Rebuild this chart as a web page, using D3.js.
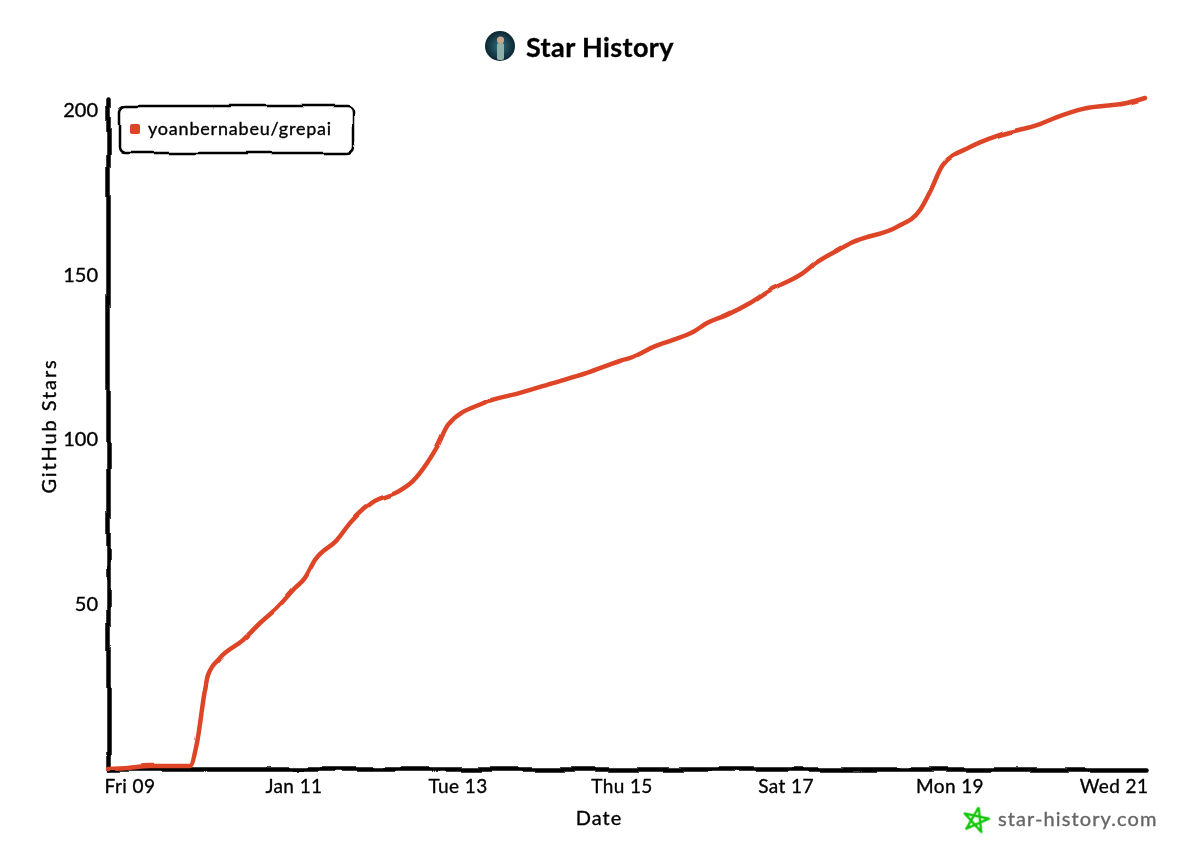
<!DOCTYPE html>
<html>
<head>
<meta charset="utf-8">
<script src="https://cdn.jsdelivr.net/npm/d3@7"></script>
<style>
  html, body { margin: 0; background: #fff; }
  text { font-family: "Lato", "Noto Sans", sans-serif; fill: #000; stroke: #000; stroke-width: 0.35px; }
</style>
</head>
<body>
<svg id="chart" width="1200" height="867"></svg>
<script>
// Data
var starTimes = [
  "01-08 17:34", "01-08 23:25", "01-09 05:51", "01-09 17:34", "01-09 19:36", "01-09 21:57",
  "01-09 22:50", "01-10 02:20", "01-10 09:04", "01-10 14:03", "01-10 19:01", "01-11 00:17",
  "01-11 03:13", "01-11 06:08", "01-11 12:35", "01-11 16:23", "01-11 23:07", "01-12 06:09",
  "01-12 10:32", "01-12 14:55", "01-12 17:51", "01-12 21:04", "01-13 07:19", "01-13 18:08",
  "01-14 03:48", "01-14 13:45", "01-14 23:25", "01-15 03:13", "01-15 09:04", "01-15 14:56",
  "01-15 20:47", "01-16 00:53", "01-16 06:44", "01-16 13:28", "01-16 19:19", "01-17 04:06",
  "01-17 09:04", "01-17 15:48", "01-17 19:37", "01-18 08:29", "01-18 15:13", "01-18 18:08",
  "01-18 21:55", "01-19 05:51", "01-19 14:38", "01-20 02:20", "01-20 07:19", "01-20 14:55",
  "01-21 03:48", "01-21 09:04"
];
var starCounts = [
  0, 0.3, 0.9, 0.9, 7.9, 24,
  28.5, 33.7, 39.1, 44.3, 48.9, 54.9,
  58, 63.4, 69.5, 74.6, 81, 84,
  87.1, 92.8, 97.7, 104.4, 111, 114.1,
  117.1, 120.2, 123.8, 125, 128, 130.2,
  132.6, 135.3, 137.8, 141.4, 145.3, 149.9,
  153.8, 157.8, 159.9, 164.5, 169.6, 175.1,
  183.3, 188.7, 192.4, 195.7, 197.8, 200.3,
  202.1, 203.6
];
var xTickTimes = ["01-09 00:00", "01-11 00:00", "01-13 00:00", "01-15 00:00", "01-17 00:00", "01-19 00:00", "01-21 00:00"];
var xTickLabels = ["Fri 09", "Jan 11", "Tue 13", "Thu 15", "Sat 17", "Mon 19", "Wed 21"];
var yTicks = [50, 100, 150, 200];
var seriesName = "yoanbernabeu/grepai";

var parseTime = d3.utcParse("%Y-%m-%d %H:%M");
function toDate(s) { return parseTime("2026-" + s); }

var red = "#dd4528";

var x = d3.scaleUtc()
  .domain([toDate(starTimes[0]), toDate(starTimes[starTimes.length - 1])])
  .range([108, 1145]);

var y = d3.scaleLinear()
  .domain([0, 203.6])
  .range([769, 98]);

var svg = d3.select("#chart");

// Same trick chart.xkcd uses: displace everything a bit to look hand drawn
var defs = svg.append("defs");
function sketchFilter(id, freq, scale) {
  var f = defs.append("filter")
    .attr("id", id)
    .attr("filterUnits", "userSpaceOnUse")
    .attr("x", 0).attr("y", 0).attr("width", 1200).attr("height", 867);
  f.append("feTurbulence")
    .attr("type", "fractalNoise")
    .attr("baseFrequency", freq)
    .attr("numOctaves", 1)
    .attr("seed", 4)
    .attr("result", "noise");
  f.append("feDisplacementMap")
    .attr("in", "SourceGraphic")
    .attr("in2", "noise")
    .attr("scale", scale)
    .attr("xChannelSelector", "R")
    .attr("yChannelSelector", "G");
}
sketchFilter("xkcdify", 0.025, 6);
sketchFilter("xkcdline", 0.04, 2.5);
sketchFilter("xkcdtext", 0.07, 1.6);

var lines = svg.append("g").attr("filter", "url(#xkcdify)");
var labels = svg.append("g").attr("filter", "url(#xkcdtext)");

// Axes
var xAxis = d3.axisBottom(x)
  .tickValues(xTickTimes.map(toDate))
  .tickFormat(function (d, i) { return xTickLabels[i]; })
  .tickSize(0)
  .tickPadding(0);

var yAxis = d3.axisLeft(y)
  .tickValues(yTicks)
  .tickSize(0);

var gx = lines.append("g").attr("transform", "translate(0,769)").call(xAxis);
var gy = lines.append("g").attr("transform", "translate(108,0)").call(yAxis);

[gx, gy].forEach(function (g) {
  g.select(".domain")
    .attr("stroke", "#000")
    .attr("stroke-width", 4.5)
    .attr("stroke-linecap", "round");
});

// Move the tick labels to the text layer so they get the finer wobble
gx.selectAll(".tick text").remove();
gy.selectAll(".tick text").remove();

labels.selectAll(".xlabel")
  .data(xTickTimes)
  .enter().append("text")
  .attr("class", "xlabel")
  .attr("x", function (d) { return x(toDate(d)); })
  .attr("y", 793)
  .attr("text-anchor", "middle")
  .attr("font-size", 19)
  .attr("letter-spacing", 0.4)
  .text(function (d, i) { return xTickLabels[i]; });

labels.selectAll(".ylabel")
  .data(yTicks)
  .enter().append("text")
  .attr("class", "ylabel")
  .attr("x", 98)
  .attr("y", function (d) { return y(d) + 7; })
  .attr("text-anchor", "end")
  .attr("font-size", 20)
  .text(function (d) { return d; });

// Series line
var line = d3.line()
  .x(function (d, i) { return x(toDate(starTimes[i])); })
  .y(function (d) { return y(d); })
  .curve(d3.curveMonotoneX);

svg.append("path")
  .datum(starCounts)
  .attr("filter", "url(#xkcdline)")
  .attr("fill", "none")
  .attr("stroke", red)
  .attr("stroke-width", 4.5)
  .attr("stroke-linecap", "round")
  .attr("stroke-linejoin", "round")
  .attr("d", line);

// Title with avatar
var avatarGrad = defs.append("radialGradient").attr("id", "avatarFill");
avatarGrad.append("stop").attr("offset", "0%").attr("stop-color", "#2f6f80");
avatarGrad.append("stop").attr("offset", "100%").attr("stop-color", "#0c2530");

var avatar = svg.append("g").attr("transform", "translate(500,46)");
avatar.append("circle").attr("r", 15).attr("fill", "url(#avatarFill)");
avatar.append("rect").attr("x", -3).attr("y", -3).attr("width", 7).attr("height", 17).attr("rx", 2).attr("fill", "#8fb0a8");
avatar.append("circle").attr("cx", 0.5).attr("cy", -6).attr("r", 3.6).attr("fill", "#c9a58c");

labels.append("text")
  .attr("x", 526)
  .attr("y", 57)
  .attr("font-size", 27)
  .attr("font-weight", 700)
  .attr("letter-spacing", 0.4)
  .text("Star History");

labels.append("text")
  .attr("x", 599)
  .attr("y", 825)
  .attr("text-anchor", "middle")
  .attr("font-size", 20)
  .attr("letter-spacing", 1)
  .text("Date");

labels.append("text")
  .attr("transform", "translate(56,426) rotate(-90)")
  .attr("text-anchor", "middle")
  .attr("font-size", 20)
  .attr("letter-spacing", 1.9)
  .text("GitHub Stars");

// Legend
lines.append("rect")
  .attr("x", 119).attr("y", 106)
  .attr("width", 234).attr("height", 47)
  .attr("rx", 6)
  .attr("fill", "#fff")
  .attr("stroke", "#000")
  .attr("stroke-width", 2.5);

lines.append("rect")
  .attr("x", 129).attr("y", 124)
  .attr("width", 10).attr("height", 10)
  .attr("rx", 2)
  .attr("fill", red);

labels.append("text")
  .attr("x", 148)
  .attr("y", 135)
  .attr("font-size", 18)
  .attr("letter-spacing", 0.8)
  .text(seriesName);

// Watermark: star drawn as a pentagram around its centre
var starPoints = d3.range(6).map(function (i) {
  var a = -Math.PI / 2 + i * 4 * Math.PI / 5;
  return [976 + 13 * Math.cos(a), 820 + 13 * Math.sin(a)];
});
svg.append("path")
  .attr("d", d3.line()(starPoints))
  .attr("transform", "rotate(12 976 820)")
  .attr("fill", "none")
  .attr("stroke", "#16c60c")
  .attr("stroke-width", 2.4)
  .attr("stroke-linejoin", "round");

labels.append("text")
  .attr("x", 998)
  .attr("y", 826)
  .attr("font-size", 20)
  .attr("letter-spacing", 1.1)
  .style("fill", "#666")
  .style("stroke", "#666")
  .text("star-history.com");
</script>
</body>
</html>
